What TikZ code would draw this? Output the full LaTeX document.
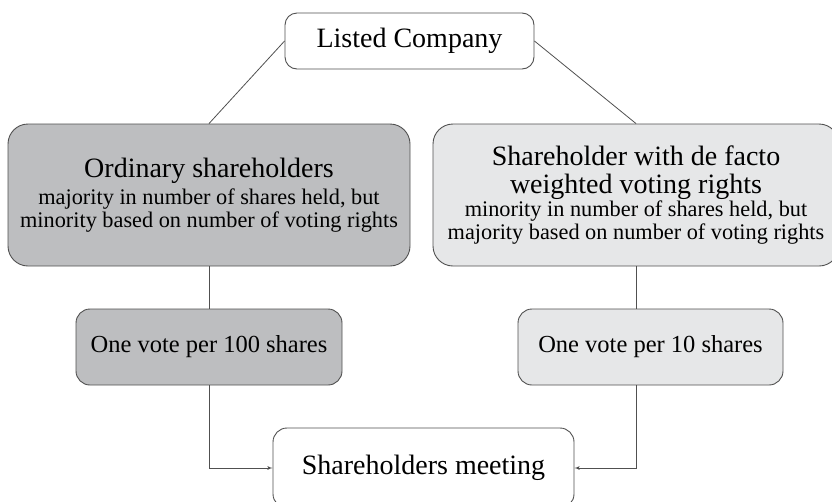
\documentclass[tikz,border=0pt]{standalone}
\usepackage{fontspec}
\setmainfont{Liberation Serif}
\usepackage{tikz}
\usetikzlibrary{arrows}
\usetikzlibrary{calc}
\definecolor{darkfill}{HTML}{BDBEC0}
\definecolor{lightfill}{HTML}{E6E7E8}
\definecolor{linegray}{HTML}{505050}
\def\bigfont{\fontsize{28}{32}\selectfont}
\def\midfont{\fontsize{24.5}{28}\selectfont}
\def\smallfont{\fontsize{22.3}{23}\selectfont}

\begin{document}
\begin{tikzpicture}[ x=1pt, y=-1pt,
      box/.style={ draw=linegray, line width=0.9pt, align=center, inner sep=0pt},
      link/.style={ draw=linegray, line width=0.8pt},
      normal/.style={ link, ->, >=latex'},
      every node/.style={color=black}
      ]
      \useasboundingbox (0,0) rectangle (832,501);
      % top
      \node[box, rounded corners=12pt, minimum width=249pt, minimum height=56pt] (Company) at (409.5,41) {\bigfont Listed Company};

      % shareholders
      \node[box, rounded corners=20pt, fill=darkfill, minimum width=402pt, minimum height=142pt] (Ordinary) at (209,195)
        {{\bigfont Ordinary shareholders}\\[5pt]
         \smallfont majority in number of shares held, but\\[1pt]
         \smallfont minority based on number of voting rights};
      \node[box, rounded corners=20pt, fill=lightfill, minimum width=406pt, minimum height=142pt] (Weighted) at (636,195)
        {{\bigfont Shareholder with de facto}\\[7pt]
         {\bigfont weighted voting rights}\\[1pt]
         \smallfont minority in number of shares held, but\\[1pt]
         \smallfont majority based on number of voting rights};

      % votes
      \node[box, rounded corners=14pt, fill=darkfill, minimum width=266pt, minimum height=76pt] (VoteA) at (209,347) {\midfont One vote per 100 shares};
      \node[box, rounded corners=14pt, fill=lightfill, minimum width=265pt, minimum height=76pt] (VoteB) at (650.5,347) {\midfont One vote per 10 shares};

      % meeting
      \node[box, rounded corners=14pt, minimum width=301pt, minimum height=80pt] (Meeting) at (423.5,468) {\bigfont Shareholders meeting};

      \draw[link] (Company.west) -- (Ordinary.north);
      \draw[link] (Company.east) -- (Weighted.north);
      \draw[link] (Ordinary.south) -- (VoteA.north);
      \draw[link] (Weighted.south) -- (Weighted.south |- VoteB.north);
      \draw[normal] (VoteA.south) |- (Meeting.west);
      \draw[normal] (Weighted.south |- VoteB.south) |- (Meeting.east);
    \end{tikzpicture}
\end{document}
